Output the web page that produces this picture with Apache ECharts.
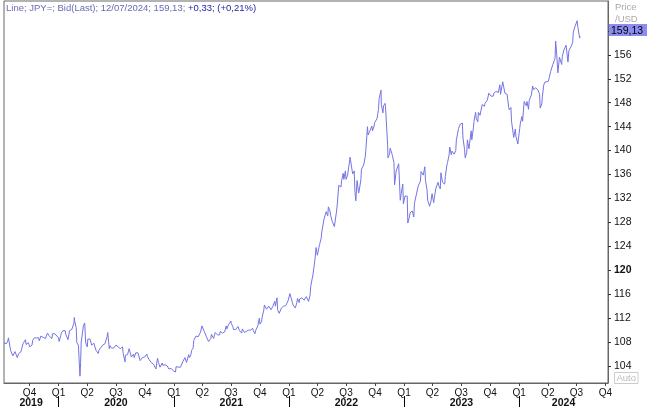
<!DOCTYPE html>
<html><head><meta charset="utf-8">
<script src="https://cdn.jsdelivr.net/npm/echarts@6/dist/echarts.min.js"></script>
<style>html,body{margin:0;padding:0;background:#fff}#c{width:647px;height:414px}</style>
</head><body><div id="c"></div>
<script>
// ---- data (USD/JPY bid) ----
const y2019 = [['2019-07-12',107.9],['2019-07-17',108.2],['2019-07-19',107.7],['2019-07-24',108.2],['2019-07-26',108.7],['2019-07-31',108.6],['2019-08-02',106.6],['2019-08-07',106.3],['2019-08-09',105.7],['2019-08-14',105.9],['2019-08-16',106.4],['2019-08-21',106.6],['2019-08-23',105.4],['2019-08-28',106.1],['2019-08-30',106.3],['2019-09-04',106.4],['2019-09-06',106.9],['2019-09-11',107.8],['2019-09-13',108.1],['2019-09-18',108.4],['2019-09-20',107.6],['2019-09-25',107.8],['2019-09-27',107.9],['2019-10-02',107.2],['2019-10-04',106.9],['2019-10-09',107.5],['2019-10-11',108.3],['2019-10-16',108.7],['2019-10-18',108.4],['2019-10-23',108.7],['2019-10-25',108.7],['2019-10-30',108.7],['2019-11-01',108.2],['2019-11-06',109.0],['2019-11-08',109.3],['2019-11-13',108.8],['2019-11-15',108.8],['2019-11-20',108.6],['2019-11-22',108.7],['2019-11-27',109.5],['2019-11-29',109.5],['2019-12-04',108.9],['2019-12-06',108.6],['2019-12-11',108.6],['2019-12-13',109.4],['2019-12-18',109.6],['2019-12-20',109.4],['2019-12-25',109.4],['2019-12-27',109.4]];
const y2020 = [['2020-01-01',108.7],['2020-01-03',108.1],['2020-01-08',109.1],['2020-01-10',109.5],['2020-01-15',109.9],['2020-01-17',110.1],['2020-01-22',109.9],['2020-01-24',109.3],['2020-01-29',109.0],['2020-01-31',108.4],['2020-02-05',109.9],['2020-02-07',109.7],['2020-02-12',110.1],['2020-02-14',109.8],['2020-02-19',111.2],['2020-02-20',112.1],['2020-02-21',111.6],['2020-02-26',110.4],['2020-02-28',107.9],['2020-03-04',107.5],['2020-03-06',105.4],['2020-03-09',102.3],['2020-03-11',104.6],['2020-03-13',108.0],['2020-03-18',107.8],['2020-03-20',110.8],['2020-03-24',111.2],['2020-03-27',107.9],['2020-04-01',107.2],['2020-04-03',108.5],['2020-04-08',108.8],['2020-04-10',108.5],['2020-04-15',107.5],['2020-04-17',107.5],['2020-04-22',107.8],['2020-04-24',107.5],['2020-04-29',106.6],['2020-05-01',106.9],['2020-05-06',106.1],['2020-05-08',106.6],['2020-05-13',107.0],['2020-05-15',107.1],['2020-05-20',107.5],['2020-05-22',107.6],['2020-05-27',107.7],['2020-05-29',107.8],['2020-06-03',108.9],['2020-06-05',109.6],['2020-06-10',106.9],['2020-06-12',107.4],['2020-06-17',107.0],['2020-06-19',106.9],['2020-06-24',107.0],['2020-06-26',107.2],['2020-07-01',107.5],['2020-07-03',107.5],['2020-07-08',107.2],['2020-07-10',106.9],['2020-07-15',106.9],['2020-07-17',107.0],['2020-07-22',107.2],['2020-07-24',106.1],['2020-07-30',104.7],['2020-07-31',105.8],['2020-08-05',105.6],['2020-08-07',105.9],['2020-08-12',106.9],['2020-08-14',106.6],['2020-08-19',105.5],['2020-08-21',105.8],['2020-08-26',106.0],['2020-08-28',105.4],['2020-09-02',106.2],['2020-09-04',106.2],['2020-09-09',106.2],['2020-09-11',106.1],['2020-09-16',104.9],['2020-09-18',104.6],['2020-09-23',105.4],['2020-09-25',105.6],['2020-09-30',105.5],['2020-10-02',105.3],['2020-10-07',106.0],['2020-10-09',105.6],['2020-10-14',105.1],['2020-10-16',105.4],['2020-10-21',104.6],['2020-10-23',104.7],['2020-10-28',104.3],['2020-10-30',104.6],['2020-11-05',103.5],['2020-11-06',103.4],['2020-11-10',105.3],['2020-11-13',104.6],['2020-11-18',103.8],['2020-11-20',103.9],['2020-11-25',104.5],['2020-11-27',104.1],['2020-12-02',104.4],['2020-12-04',104.2],['2020-12-09',104.2],['2020-12-11',104.0],['2020-12-16',103.5],['2020-12-18',103.3],['2020-12-23',103.6],['2020-12-25',103.6],['2020-12-30',103.2]];
const y2021 = [['2021-01-01',103.2],['2021-01-06',103.0],['2021-01-08',103.9],['2021-01-13',103.9],['2021-01-15',103.8],['2021-01-20',103.6],['2021-01-22',103.8],['2021-01-27',104.1],['2021-01-29',104.7],['2021-02-03',105.0],['2021-02-05',105.4],['2021-02-10',104.6],['2021-02-12',104.9],['2021-02-17',105.9],['2021-02-19',105.4],['2021-02-24',105.9],['2021-02-26',106.6],['2021-03-03',107.0],['2021-03-05',108.3],['2021-03-10',108.4],['2021-03-12',109.0],['2021-03-17',108.8],['2021-03-19',108.9],['2021-03-24',108.6],['2021-03-26',109.6],['2021-03-31',110.7],['2021-04-02',110.6],['2021-04-07',109.8],['2021-04-09',109.7],['2021-04-14',108.9],['2021-04-16',108.8],['2021-04-21',108.1],['2021-04-23',107.9],['2021-04-28',108.6],['2021-04-30',109.3],['2021-05-05',109.2],['2021-05-07',108.6],['2021-05-12',109.6],['2021-05-14',109.4],['2021-05-19',109.2],['2021-05-21',108.9],['2021-05-26',109.2],['2021-05-28',109.8],['2021-06-02',109.6],['2021-06-04',109.5],['2021-06-09',109.6],['2021-06-11',109.7],['2021-06-16',110.7],['2021-06-18',110.2],['2021-06-23',110.9],['2021-06-25',110.8],['2021-07-01',111.5],['2021-07-02',111.1],['2021-07-07',110.6],['2021-07-09',110.1],['2021-07-14',109.9],['2021-07-16',110.1],['2021-07-21',110.3],['2021-07-23',110.6],['2021-07-28',109.9],['2021-07-30',109.7],['2021-08-04',109.5],['2021-08-06',110.2],['2021-08-11',110.4],['2021-08-13',109.6],['2021-08-18',109.8],['2021-08-20',109.8],['2021-08-25',110.0],['2021-08-27',109.8],['2021-09-01',110.0],['2021-09-03',109.7],['2021-09-08',110.3],['2021-09-10',109.9],['2021-09-15',109.4],['2021-09-17',109.9],['2021-09-22',109.8],['2021-09-24',110.7],['2021-09-29',112.0],['2021-10-01',111.0],['2021-10-06',111.4],['2021-10-08',112.2],['2021-10-13',113.3],['2021-10-15',114.2],['2021-10-20',114.3],['2021-10-22',113.5],['2021-10-27',113.8],['2021-10-29',114.0],['2021-11-03',114.0],['2021-11-05',113.4],['2021-11-10',113.9],['2021-11-12',113.9],['2021-11-17',114.8],['2021-11-19',114.0],['2021-11-24',115.4],['2021-11-26',113.4],['2021-12-01',112.8],['2021-12-03',112.8],['2021-12-08',113.7],['2021-12-10',113.4],['2021-12-15',114.0],['2021-12-17',113.7],['2021-12-22',114.1],['2021-12-24',114.4],['2021-12-29',114.9],['2021-12-31',115.1]];
const y2022 = [['2022-01-04',116.1],['2022-01-07',115.5],['2022-01-12',114.6],['2022-01-14',114.2],['2022-01-19',114.3],['2022-01-21',113.7],['2022-01-26',114.6],['2022-01-28',115.3],['2022-02-02',114.6],['2022-02-04',115.2],['2022-02-09',115.5],['2022-02-11',115.4],['2022-02-16',115.4],['2022-02-18',115.0],['2022-02-23',115.0],['2022-02-25',115.6],['2022-03-02',115.5],['2022-03-04',114.8],['2022-03-09',115.9],['2022-03-11',117.3],['2022-03-16',118.7],['2022-03-18',119.2],['2022-03-22',120.8],['2022-03-25',122.1],['2022-03-28',123.8],['2022-04-01',122.5],['2022-04-06',123.8],['2022-04-08',124.3],['2022-04-13',125.3],['2022-04-15',126.4],['2022-04-20',127.9],['2022-04-22',128.5],['2022-04-27',128.4],['2022-04-29',129.8],['2022-05-04',129.1],['2022-05-06',130.6],['2022-05-11',129.9],['2022-05-13',129.2],['2022-05-18',128.2],['2022-05-20',127.9],['2022-05-25',127.3],['2022-05-27',127.1],['2022-06-01',129.9],['2022-06-03',130.9],['2022-06-08',134.2],['2022-06-10',134.4],['2022-06-15',133.9],['2022-06-17',135.0],['2022-06-22',136.2],['2022-06-24',135.2],['2022-06-29',136.6],['2022-07-01',135.2],['2022-07-06',135.9],['2022-07-08',136.1],['2022-07-14',138.9],['2022-07-15',138.5],['2022-07-20',138.2],['2022-07-22',136.1],['2022-07-27',136.6],['2022-07-29',133.3],['2022-08-01',131.6],['2022-08-05',135.0],['2022-08-10',132.9],['2022-08-12',133.4],['2022-08-17',135.1],['2022-08-19',136.9],['2022-08-24',136.9],['2022-08-26',137.6],['2022-08-31',139.0],['2022-09-02',140.2],['2022-09-07',144.0],['2022-09-09',142.6],['2022-09-14',143.2],['2022-09-16',142.9],['2022-09-21',144.1],['2022-09-23',143.3],['2022-09-28',144.1],['2022-09-30',144.7],['2022-10-05',144.6],['2022-10-07',145.3],['2022-10-12',146.9],['2022-10-14',148.7],['2022-10-20',150.1],['2022-10-21',147.7],['2022-10-26',146.3],['2022-10-28',147.5],['2022-11-02',147.9],['2022-11-04',146.6],['2022-11-10',140.9],['2022-11-11',138.8],['2022-11-16',139.4],['2022-11-18',140.4],['2022-11-23',139.6],['2022-11-25',139.2],['2022-11-30',138.0],['2022-12-02',134.3],['2022-12-07',136.6],['2022-12-09',136.6],['2022-12-15',137.8],['2022-12-16',136.6],['2022-12-20',131.7],['2022-12-23',132.8],['2022-12-28',134.4],['2022-12-30',131.1]];
const y2023 = [['2023-01-04',132.4],['2023-01-06',132.1],['2023-01-11',132.4],['2023-01-13',127.9],['2023-01-18',128.9],['2023-01-20',129.6],['2023-01-25',129.6],['2023-01-27',129.9],['2023-02-01',128.9],['2023-02-03',131.2],['2023-02-08',131.4],['2023-02-10',131.4],['2023-02-15',134.1],['2023-02-17',134.2],['2023-02-22',134.9],['2023-02-24',136.5],['2023-03-01',136.2],['2023-03-03',135.9],['2023-03-08',137.3],['2023-03-10',135.0],['2023-03-15',133.4],['2023-03-17',131.7],['2023-03-23',130.7],['2023-03-27',131.4],['2023-03-31',132.8],['2023-04-05',131.3],['2023-04-07',132.1],['2023-04-12',133.7],['2023-04-14',133.8],['2023-04-19',134.7],['2023-04-21',134.2],['2023-04-26',133.6],['2023-04-28',136.3],['2023-05-03',134.7],['2023-05-05',134.8],['2023-05-10',134.4],['2023-05-12',135.7],['2023-05-17',137.6],['2023-05-19',138.0],['2023-05-24',139.3],['2023-05-26',140.6],['2023-05-31',139.3],['2023-06-02',139.9],['2023-06-07',140.1],['2023-06-09',139.4],['2023-06-14',140.0],['2023-06-16',141.8],['2023-06-21',141.9],['2023-06-23',143.7],['2023-06-28',144.4],['2023-06-30',144.3],['2023-07-05',144.6],['2023-07-07',142.1],['2023-07-12',140.2],['2023-07-14',138.8],['2023-07-19',139.7],['2023-07-21',141.8],['2023-07-26',140.3],['2023-07-28',141.2],['2023-08-02',143.3],['2023-08-04',141.8],['2023-08-09',143.8],['2023-08-11',144.9],['2023-08-16',146.4],['2023-08-18',145.4],['2023-08-23',144.8],['2023-08-25',146.4],['2023-08-30',145.9],['2023-09-01',146.2],['2023-09-06',147.7],['2023-09-08',147.8],['2023-09-13',147.4],['2023-09-15',147.9],['2023-09-20',148.2],['2023-09-22',148.4],['2023-09-27',149.6],['2023-09-29',149.4],['2023-10-04',149.1],['2023-10-06',149.3],['2023-10-11',149.1],['2023-10-13',149.6],['2023-10-18',149.8],['2023-10-20',149.9],['2023-10-25',150.2],['2023-10-27',149.7],['2023-11-01',151.0],['2023-11-03',149.4],['2023-11-08',150.9],['2023-11-10',151.5],['2023-11-13',151.7],['2023-11-15',151.3],['2023-11-17',149.6],['2023-11-22',149.5],['2023-11-24',149.4],['2023-11-29',147.2],['2023-12-01',146.8],['2023-12-06',147.2],['2023-12-08',144.9],['2023-12-13',142.9],['2023-12-15',142.2],['2023-12-20',143.6],['2023-12-22',142.4],['2023-12-28',141.1],['2023-12-29',141.0]];
const y2024 = [['2024-01-03',143.7],['2024-01-05',144.6],['2024-01-10',145.7],['2024-01-12',144.9],['2024-01-17',148.2],['2024-01-19',148.1],['2024-01-24',147.5],['2024-01-26',148.2],['2024-01-31',146.9],['2024-02-02',148.4],['2024-02-07',148.1],['2024-02-09',149.3],['2024-02-13',150.8],['2024-02-16',150.2],['2024-02-21',150.3],['2024-02-23',150.5],['2024-02-28',150.6],['2024-03-01',150.1],['2024-03-06',149.4],['2024-03-08',147.1],['2024-03-13',147.8],['2024-03-15',149.1],['2024-03-19',150.9],['2024-03-22',151.4],['2024-03-27',151.3],['2024-03-29',151.3],['2024-04-03',151.6],['2024-04-05',151.6],['2024-04-10',153.2],['2024-04-12',153.3],['2024-04-17',154.4],['2024-04-19',154.6],['2024-04-24',155.4],['2024-04-26',158.3],['2024-04-29',156.3],['2024-05-03',153.0],['2024-05-08',155.6],['2024-05-10',155.8],['2024-05-15',154.4],['2024-05-17',155.7],['2024-05-22',156.8],['2024-05-24',157.0],['2024-05-29',157.6],['2024-05-31',157.3],['2024-06-04',154.8],['2024-06-07',156.7],['2024-06-12',156.7],['2024-06-14',157.4],['2024-06-19',158.1],['2024-06-21',159.8],['2024-06-26',160.7],['2024-06-28',160.9],['2024-07-03',161.7],['2024-07-05',160.8],['2024-07-11',158.8],['2024-07-12',159.13]];

const yTicks = [104,108,112,116,120,124,128,132,136,140,144,148,152,156,160];
const quarterStarts = ['2019-10-01','2020-01-01','2020-04-01','2020-07-01','2020-10-01','2021-01-01','2021-04-01','2021-07-01','2021-10-01','2022-01-01','2022-04-01','2022-07-01','2022-10-01','2023-01-01','2023-04-01','2023-07-01','2023-10-01','2024-01-01','2024-04-01','2024-07-01','2024-10-01'];
const quarterLabels = ['Q4','Q1','Q2','Q3','Q4','Q1','Q2','Q3','Q4','Q1','Q2','Q3','Q4','Q1','Q2','Q3','Q4','Q1','Q2','Q3','Q4'];
const yearStarts = ['2020-01-01','2021-01-01','2022-01-01','2023-01-01','2024-01-01'];
const yearLabelPos = ['2019-10-06','2020-07-01','2021-07-02','2022-07-02','2023-07-02','2024-05-21'];
const yearLabels = ['2019','2020','2021','2022','2023','2024'];
const xMin = '2019-07-12', xMax = '2024-10-09';
const yMin = 101.16, yMax = 165.0;
const lastPrice = 159.13;
const titleMain = 'Line; JPY=; Bid(Last); 12/07/2024; 159,13; ';
const titleChange = '+0,33; (+0,21%)';

// ---- build ----
const ts = s => { const p = s.split('-').map(Number); return new Date(p[0], p[1]-1, p[2]).getTime(); };
const seriesData = [].concat(y2019, y2020, y2021, y2022, y2023, y2024).map(d => [ts(d[0]), d[1]]);
const qTs = quarterStarts.map(ts), yStartTs = yearStarts.map(ts), yPosTs = yearLabelPos.map(ts);
const nearest = (arr, v) => { let bi = -1, bd = Infinity; arr.forEach((a, i) => { const d = Math.abs(a - v); if (d < bd) { bd = d; bi = i; } }); return bd < 2 * 86400000 ? bi : -1; };
const FONT = 'Liberation Sans, Arial, sans-serif';

const chart = echarts.init(document.getElementById('c'), null, {renderer: 'canvas'});
chart.setOption({
  animation: false,
  backgroundColor: '#fff',
  title: {
    left: 6, top: 3, padding: 0,
    text: '{a|' + titleMain + '}{b|' + titleChange + '}',
    textStyle: { fontWeight: 'normal', rich: {
      a: {color: '#6b6bb5', fontSize: 9.5, fontWeight: 'normal', fontFamily: FONT},
      b: {color: '#1c1ca8', fontSize: 9.5, fontWeight: 'normal', fontFamily: FONT}
    }}
  },
  grid: { left: 4, right: 39, top: 1, bottom: 31, show: true, borderColor: '#666', borderWidth: 1, backgroundColor: 'transparent', containLabel: false, outerBoundsMode: 'none' },
  xAxis: [
    { type: 'value', min: ts(xMin), max: ts(xMax), position: 'bottom', scale: true,
      axisLine: {show: true, onZero: false, lineStyle: {color: '#666', width: 1}},
      axisTick: {show: true, customValues: qTs, length: 3, lineStyle: {color: '#444'}},
      axisLabel: {customValues: qTs, hideOverlap: false, margin: 5, fontSize: 10, fontFamily: FONT, color: '#111',
        formatter: v => { const i = nearest(qTs, v); return i >= 0 ? quarterLabels[i] : ''; }},
      splitLine: {show: false}
    },
    { type: 'value', min: ts(xMin), max: ts(xMax), position: 'bottom', offset: 13, scale: true,
      axisLine: {show: false, onZero: false},
      axisTick: {show: true, customValues: yStartTs, length: 11, lineStyle: {color: '#000', width: 1}},
      axisLabel: {customValues: yPosTs, hideOverlap: false, margin: 2, fontSize: 10.5, fontWeight: 'bold', fontFamily: FONT, color: '#111',
        formatter: v => { const i = nearest(yPosTs, v); return i >= 0 ? yearLabels[i] : ''; }},
      splitLine: {show: false}
    }
  ],
  yAxis: [
    { type: 'value', position: 'right', min: yMin, max: yMax, scale: true,
      axisLine: {show: true, onZero: false, lineStyle: {color: '#666', width: 1}},
      axisTick: {show: true, customValues: yTicks, length: 3, lineStyle: {color: '#333'}},
      axisLabel: {customValues: yTicks, margin: 6, fontSize: 10.5, fontFamily: FONT, color: '#111',
        formatter: v => v === 120 ? '{b|120}' : String(v),
        rich: {b: {fontWeight: 'bold', fontSize: 10.5, fontFamily: FONT, color: '#111'}}},
      splitLine: {show: false}
    },
    { type: 'value', position: 'right', min: yMin, max: yMax, z: 5, scale: true,
      axisLine: {show: false, onZero: false}, axisTick: {show: false},
      axisLabel: {customValues: [lastPrice], margin: 1, fontSize: 10.5, fontFamily: FONT, color: '#000',
        backgroundColor: '#8c8cf2', padding: [1, 4, 0, 2], verticalAlign: 'bottom',
        formatter: v => v.toFixed(2).replace('.', ',')},
      splitLine: {show: false}
    }
  ],
  graphic: [
    { type: 'text', left: 615, top: 1, style: { text: 'Price\n/USD', fill: '#aaa', font: '9.5px ' + FONT, lineHeight: 12 } },
    { type: 'text', left: 614, top: 372, style: { text: 'Auto', fill: '#bbb', font: '9.5px ' + FONT, borderColor: '#ccc', borderWidth: 1, padding: [1, 2, 0, 2] } }
  ],
  series: [{
    type: 'line', xAxisIndex: 0, yAxisIndex: 0, data: seriesData,
    showSymbol: false, symbol: 'none', clip: true,
    lineStyle: {color: '#7474e4', width: 1},
    itemStyle: {color: '#7474e4'}
  }]
});
</script>
</body></html>
